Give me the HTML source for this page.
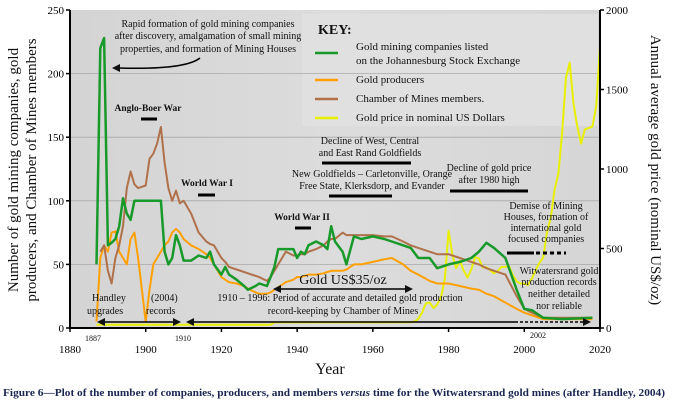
<!DOCTYPE html>
<html><head><meta charset="utf-8"><style>
body{margin:0;background:#fff;}
svg{display:block;font-family:"Liberation Serif",serif;}
</style></head><body>
<svg id="c" width="674" height="406" viewBox="0 0 674 406">
<defs><linearGradient id="bg" x1="0" y1="0" x2="1" y2="0"><stop offset="0" stop-color="#d4d4d4"/><stop offset="0.5" stop-color="#dcdcdc"/><stop offset="1" stop-color="#d6d6d6"/></linearGradient></defs>
<rect x="70" y="10" width="530" height="318" fill="url(#bg)"/>
<rect x="302" y="14" width="296" height="112" fill="#e0e0e0"/>
<g id="grid"></g>
<g id="series"></g>
<g id="axes"></g>
<g id="ann" font-size="10" fill="#111"></g>
</svg>
<script>
const years=[1887,1888,1889,1890,1891,1892,1893,1894,1895,1896,1897,1898,1899,1900,1901,1902,1903,1904,1905,1906,1907,1908,1909,1910,1912,1914,1916,1917,1918,1920,1921,1922,1924,1926,1927,1929,1930,1932,1933,1934,1935,1937,1939,1940,1941,1942,1943,1945,1947,1948,1949,1950,1952,1953,1955,1957,1960,1963,1965,1968,1970,1972,1975,1977,1980,1983,1986,1988,1990,1992,1995,1998,2000,2002,2005,2010,2018];
const companies=[50,220,228,65,67,70,80,102,90,85,100,100,100,100,100,100,100,100,60,50,55,73,65,53,53,57,55,60,50,42,48,42,38,33,30,33,35,33,40,48,62,62,62,55,60,58,65,68,65,62,80,68,60,50,72,70,72,70,68,65,63,55,55,47,50,52,55,60,67,63,55,30,15,14,8,7,8];
const producers=[5,55,65,60,75,76,60,55,50,70,75,55,30,5,30,50,55,60,65,68,75,78,75,70,65,62,58,55,50,40,38,36,35,33,31,28,27,27,28,30,32,36,38,40,40,41,42,42,43,44,45,45,45,46,50,50,52,54,55,50,45,42,37,35,35,33,31,30,27,25,20,15,12,10,7,7,7];
const members=[null,60,65,45,35,55,65,80,110,123,113,110,111,112,133,137,145,158,130,110,100,108,98,100,90,75,68,66,65,55,52,48,46,44,43,41,40,37,40,45,50,60,57,57,58,58,60,62,65,68,70,70,75,73,73,73,73,72,72,68,65,63,60,58,58,55,52,50,47,45,42,25,15,12,8,8,8];
const priceYears=[1887,1933,1934,1970,1971,1972,1973,1974,1975,1976,1977,1978,1979,1980,1981,1982,1983,1984,1985,1986,1987,1988,1989,1990,1991,1992,1993,1994,1995,1996,1997,1998,1999,2000,2001,2002,2003,2004,2005,2006,2007,2008,2009,2010,2011,2012,2013,2014,2015,2016,2017,2018,2019,2020];
const price=[20,20,35,36,40,58,97,154,161,125,148,193,307,612,460,376,424,361,317,368,446,437,381,383,362,344,360,384,384,388,331,294,279,279,271,310,363,409,444,603,695,872,972,1225,1572,1669,1411,1266,1160,1250,1257,1268,1393,1770];
const xTicks=[1880,1900,1920,1940,1960,1980,2000,2020];
const yLTicks=[0,50,100,150,200,250];
const yRTicks=[0,500,1000,1500,2000];
const NS='http://www.w3.org/2000/svg';
const X=y=>70+(y-1880)*530/140, YL=v=>328-v*318/250, YR=v=>328-v*318/2000;
function mk(tag,a,parent,txt){const e=document.createElementNS(NS,tag);for(const k in a)e.setAttribute(k,a[k]);if(txt!==undefined)e.textContent=txt;document.getElementById(parent).appendChild(e);return e;}
yLTicks.forEach(v=>{if(v>0&&v<250){const l=mk('line',{x1:70,x2:600,y1:YL(v),y2:YL(v),stroke:'#a9a9a9','stroke-width':0.8},'grid');

}});
function path(xs,vs,ys,col,w,name){let d='',pen=false;xs.forEach((yr,i)=>{if(vs[i]==null){pen=false;return;}d+=(pen?'L':'M')+X(yr).toFixed(1)+','+ys(vs[i]).toFixed(1);pen=true;});
const p=mk('path',{d:d,fill:'none',stroke:col,'stroke-width':w,'stroke-linejoin':'round'},'series');

}
path(priceYears,price,YR,'#e8f000',2,'gold-price-line');
path(years,producers,YL,'#ffa000',2,'producers-line');
path(years,members,YL,'#b0714a',2,'members-line');
path(years,companies,YL,'#189a2a',2.5,'companies-line');
// axes
mk('line',{x1:70,x2:70,y1:10,y2:329,stroke:'#000','stroke-width':2},'axes');
mk('line',{x1:600,x2:600,y1:10,y2:329,stroke:'#000','stroke-width':2},'axes');
mk('line',{x1:69,x2:601,y1:328,y2:328,stroke:'#000','stroke-width':2},'axes');
yLTicks.forEach(v=>{mk('line',{x1:66,x2:70,y1:YL(v),y2:YL(v),stroke:'#000','stroke-width':1.5},'axes');
const t=mk('text',{x:64,y:YL(v)+4,'text-anchor':'end','font-size':11},'axes',v);

});
yRTicks.forEach(v=>{mk('line',{x1:600,x2:604,y1:YR(v),y2:YR(v),stroke:'#000','stroke-width':1.5},'axes');
const t=mk('text',{x:606,y:YR(v)+4,'font-size':11},'axes',v);

});
xTicks.forEach(v=>{mk('line',{x1:X(v),x2:X(v),y1:328,y2:332,stroke:'#000','stroke-width':1.5},'axes');
const t=mk('text',{x:X(v),y:353,'text-anchor':'middle','font-size':11},'axes',v);

});
</script>
<script>
(function(){
const NS='http://www.w3.org/2000/svg',g=document.getElementById('ann');
function T(x,y,s,o){const e=document.createElementNS(NS,'text');e.setAttribute('x',x);e.setAttribute('y',y);e.setAttribute('text-anchor',(o&&o.a)||'middle');if(o&&o.fs)e.setAttribute('font-size',o.fs);if(o&&o.b)e.setAttribute('font-weight','bold');if(o&&o.tr)e.setAttribute('transform',o.tr);e.textContent=s;

g.appendChild(e);}
function L(x1,y1,x2,y2,w,dash){const e=document.createElementNS(NS,'line');e.setAttribute('x1',x1);e.setAttribute('y1',y1);e.setAttribute('x2',x2);e.setAttribute('y2',y2);e.setAttribute('stroke','#000');e.setAttribute('stroke-width',w||3);if(dash)e.setAttribute('stroke-dasharray',dash);

g.appendChild(e);}
function H(x,y,dir){const e=document.createElementNS(NS,'path');e.setAttribute('d',`M${x},${y}L${x-dir*8},${y-4}L${x-dir*8},${y+4}Z`);

g.appendChild(e);}
T(208,27,'Rapid formation of gold mining companies');T(208,39,'after discovery, amalgamation of small mining');T(208,52,'properties, and formation of Mining Houses');
const a=document.createElementNS(NS,'path');a.setAttribute('d','M200,58 Q185,70 118,68');a.setAttribute('fill','none');a.setAttribute('stroke','#000');a.setAttribute('stroke-width','1.5');

g.appendChild(a);H(112,68,-1);
T(148,111,'Anglo-Boer War',{b:1,fs:9.5});L(141,119,157,119);
T(207,186,'World War I',{b:1,fs:9.5});L(198,195,215,195);
T(302,220,'World War II',{b:1,fs:9.5});L(295,228,311,228);
T(370,144,'Decline of West, Central');T(370,156,'and East Rand Goldfields');L(322,163,411,163);
T(372,177,'New Goldfields – Carletonville, Orange');T(372,189,'Free State, Klerksdorp, and Evander');L(329,196,392,196);
T(489,171,'Decline of gold price');T(489,183,'after 1980 high');L(450,191,528,191);
T(546,209,'Demise of Mining');T(546,220,'Houses, formation of');T(546,231,'international gold');T(546,242,'focused companies');L(507,253,534,253);L(536,253,566,253,3,'4,3');
T(559,274,'Witwatersrand gold');T(559,285,'production records');T(559,297,'neither detailed');T(559,309,'nor reliable');
T(343,284,'Gold US$35/oz',{fs:14});L(280,289,406,289,1.5);H(273,289,-1);H(413,289,1);
T(340,301,'1910 – 1996: Period of accurate and detailed gold production');T(343,314,'record-keeping by Chamber of Mines');
T(92,301,'Handley',{a:'start'});T(151,301,'(2004)',{a:'start'});T(87,314,'upgrades',{a:'start'});T(146,314,'records',{a:'start'});
L(104,322,173,322,1.5);H(97,322,-1);H(181,322,1);
L(193,322,515,322,1.5);L(515,322,583,322,1.5,'3,2');H(186,322,-1);H(591,322,1);
T(93,341,'1887',{fs:8});T(183,341,'1910',{fs:8});T(538,338,'2002',{fs:8});
T(330,374,'Year',{fs:16,n:'x-axis-title'});
T(318,34,'KEY:',{a:'start',b:1,fs:14,n:'legend-title'});
const cols=['#189a2a','#ffa000','#b0714a','#e8f000'],ys=[53,80,99,118];
cols.forEach((c,i)=>{const e=document.createElementNS(NS,'line');e.setAttribute('x1',315);e.setAttribute('x2',338);e.setAttribute('y1',ys[i]);e.setAttribute('y2',ys[i]);e.setAttribute('stroke',c);e.setAttribute('stroke-width',2.5);

g.appendChild(e);});
T(356,50,'Gold mining companies listed',{a:'start',fs:11,n:'legend-entry'});T(356,64,'on the Johannesburg Stock Exchange',{a:'start',fs:11,n:'legend-entry'});
T(356,83,'Gold producers',{a:'start',fs:11,n:'legend-entry'});T(356,102,'Chamber of Mines members.',{a:'start',fs:11,n:'legend-entry'});T(356,121,'Gold price in nominal US Dollars',{a:'start',fs:11,n:'legend-entry'});
T(0,0,'Number of gold mining companies, gold',{fs:15,tr:'translate(18,170) rotate(-90)',n:'y-left-title'});
T(0,0,'producers, and Chamber of Mines members',{fs:15,tr:'translate(36,170) rotate(-90)',n:'y-left-title'});
T(0,0,'Annual average gold price (nominal US$/oz)',{fs:15,tr:'translate(651,170) rotate(90)',n:'y-right-title'});
const c=document.createElementNS(NS,'text');c.setAttribute('x',3);c.setAttribute('y',396);c.setAttribute('font-size',11);c.setAttribute('font-weight','bold');c.setAttribute('fill','#1a2650');c.setAttribute('textLength',662);c.setAttribute('lengthAdjust','spacingAndGlyphs');


c.innerHTML='Figure 6—Plot of the number of companies, producers, and members <tspan font-style="italic">versus</tspan> time for the Witwatersrand gold mines (after Handley, 2004)';g.appendChild(c);
})();
</script>
</body></html>
